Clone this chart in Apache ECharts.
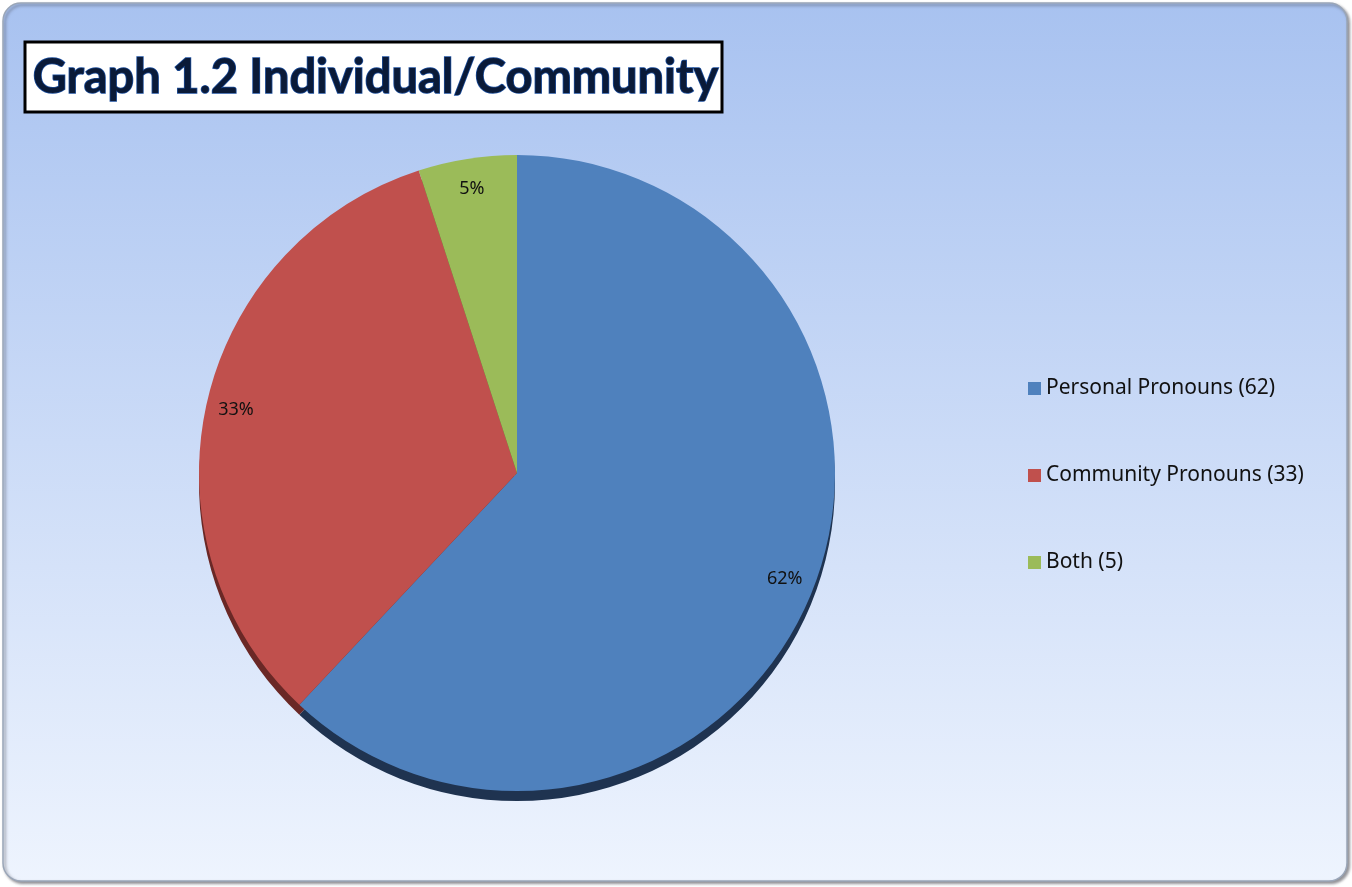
<html style="height: 100%">
<head>
	<meta charset="utf-8">
	<script type="text/javascript" src="https://cdn.jsdelivr.net/npm/echarts@6/dist/echarts.min.js"></script>
</head>

<body style="height: 100%; margin: 0; background: #fff">
	<div id="container" style="height:887px;width:1352px"></div>
</body>

<script type="text/javascript">
	var dom = document.getElementById("container");
	var myChart = echarts.init(dom);

	// data
	let categories = ['Personal Pronouns', 'Community Pronouns', 'Both'];
	let counts = [62, 33, 5];
	let colors = ['#4f81bd', '#c0504d', '#9bbb59'];
	let edgeColors = ['#1f3350', '#6a2826', '#55692f'];

	let center = [517, 473];
	let radius = 318;

	let pieData = categories.map((c, i) => ({ name: c, value: counts[i] }));

	var option = {
		animation: false,
		color: colors,
		graphic: [
			{
				type: 'rect',
				z: -10,
				shape: { x: 3, y: 3, width: 1344, height: 878, r: 18 },
				style: {
					fill: new echarts.graphic.LinearGradient(0, 0, 0, 1, [
						{ offset: 0, color: '#a8c2f0' },
						{ offset: 1, color: '#eef4fe' }
					]),
					stroke: '#9aa6b8',
					lineWidth: 1.5,
					shadowColor: 'rgba(60,60,70,0.55)',
					shadowBlur: 3,
					shadowOffsetX: 2,
					shadowOffsetY: 2
				}
			},
			{
				type: 'rect',
				z: 5,
				shape: { x: 25, y: 42, width: 697, height: 70 },
				style: { fill: '#ffffff', stroke: '#000000', lineWidth: 3 }
			},
			{
				type: 'text',
				z: 6,
				left: 32,
				top: 54,
				style: {
					text: 'Graph 1.2 Individual/Community',
					font: 'bold 47px Lato',
					fill: '#0a1a38',
					stroke: '#1d4f9e',
					lineWidth: 1.5,
					shadowColor: 'rgba(30,90,200,0.95)',
					shadowBlur: 6
				}
			}
		],
		legend: {
			orient: 'vertical',
			left: 1023,
			top: 373,
			itemWidth: 13,
			itemHeight: 13,
			itemGap: 66,
			icon: 'rect',
			textStyle: { fontFamily: 'Noto Sans', fontSize: 21, color: '#111' },
			formatter: function (name) {
				let i = categories.indexOf(name);
				return name + ' (' + counts[i] + ')';
			},
			data: categories
		},
		series: [
			{
				type: 'pie',
				z: 2,
				center: center,
				radius: radius,
				startAngle: 90,
				clockwise: true,
				label: { show: false },
				labelLine: { show: false },
				itemStyle: { borderWidth: 0 },
				data: pieData
			},
			{
				// dark lower edge of the tilted pie
				type: 'pie',
				silent: true,
				z: 1,
				center: [center[0], center[1] + 10],
				radius: radius,
				startAngle: 90,
				clockwise: true,
				label: { show: false },
				labelLine: { show: false },
				itemStyle: {
					color: function (p) { return edgeColors[p.dataIndex]; }
				},
				data: pieData
			},
			{
				// label ring so percentages sit near the outer edge
				type: 'pie',
				silent: true,
				z: 3,
				center: center,
				radius: [252, radius],
				startAngle: 90,
				clockwise: true,
				percentPrecision: 0,
				itemStyle: { color: 'transparent' },
				label: {
					show: true,
					position: 'inside',
					formatter: '{d}%',
					fontFamily: 'Noto Sans',
					fontSize: 18,
					color: '#111'
				},
				labelLine: { show: false },
				data: pieData
			}
		]
	};

	myChart.setOption(option);
</script>

</html>
